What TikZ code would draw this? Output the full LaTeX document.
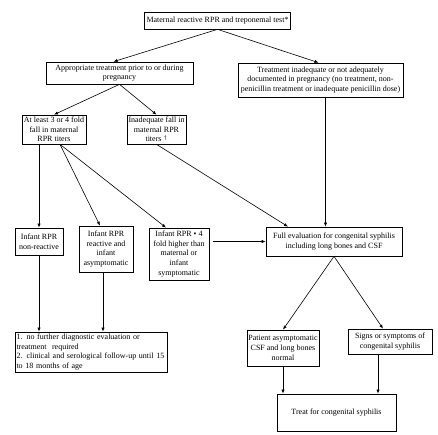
\documentclass[tikz,border=0pt]{standalone}
\usepackage{fontspec}
\setmainfont{Liberation Serif}
\usetikzlibrary{arrows.meta}

\begin{document}
\begin{tikzpicture}[x=1pt,y=-1pt,
  box/.style={draw,line width=0.7pt,align=center,inner sep=1pt,font=\fontsize{8}{9.7}\selectfont},
  arr/.style={-{Latex[length=4pt,width=3.2pt]},line width=0.6pt}]
\useasboundingbox (0,0) rectangle (438,435);
% boxes
\node[box,minimum width=146pt,minimum height=17pt] (mat) at (217.5,20.5) {Maternal reactive RPR and treponemal test*};
\node[box,minimum width=147pt,minimum height=22pt] (appr) at (119.5,73) {Appropriate treatment prior to or during\\pregnancy};
\node[box,minimum width=165pt,minimum height=34pt] (inad) at (320.5,80) {Treatment inadequate or not adequately\\documented in pregnancy (no treatment, non-\\penicillin treatment or inadequate penicillin dose)};
\node[box,minimum width=64pt,minimum height=29pt] (fold) at (54,129.5) {At least 3 or 4 fold\\fall in maternal\\RPR titers};
\node[box,minimum width=59pt,minimum height=29pt] (fall) at (156.5,129.5) {Inadequate fall in\\maternal RPR\\titers $^\dagger$};
\node[box,minimum width=48pt,minimum height=27pt] (nonr) at (39,241.5) {Infant RPR\\non-reactive};
\node[box,minimum width=54pt,minimum height=46pt] (asym) at (106,249) {Infant RPR\\reactive and\\infant\\asymptomatic};
\node[box,minimum width=60pt,minimum height=52pt] (high) at (179,254) {Infant RPR \textbullet{} 4\\fold higher than\\maternal or\\infant\\symptomatic};
\node[box,minimum width=136pt,minimum height=29pt] (full) at (334,241.5) {Full evaluation for congenital syphilis\\including long bones and CSF};
\node[box,align=left,text width=150pt,minimum height=40pt] (follow) at (91.5,352) {1. no further diagnostic evaluation or\\treatment\ \ required\\2. clinical and serological follow-up until 15\\to 18 months of age};
\node[box,minimum width=72pt,minimum height=36pt] (pat) at (283,348) {Patient asymptomatic\\CSF and long bones\\normal};
\node[box,minimum width=84pt,minimum height=25pt] (sign) at (390,341.5) {Signs or symptoms of\\congenital syphilis};
\node[box,minimum width=119pt,minimum height=37pt] (treat) at (336.5,412.5) {Treat for congenital syphilis};
% arrows
\draw[arr] (mat.south) -- ([xshift=-6pt]appr.north);
\draw[arr] (mat.south) -- ([xshift=-2pt]inad.north);
\draw[arr] (appr.south) -- (fold.north);
\draw[arr] (appr.south) -- (fall.north);
\draw[arr] ([xshift=5pt]inad.south) -- ([xshift=5pt]inad.south |- full.north);
\draw[arr] (nonr.north |- fold.south) -- (nonr.north);
\draw[arr] ([xshift=6pt]fold.south) -- ([xshift=-6pt]asym.north);
\draw[arr] ([xshift=6pt]fold.south) -- ([xshift=-13pt]high.north);
\draw[arr] (fall.south) -- ([xshift=-46pt]full.north);
\draw[arr] ([xshift=4pt]high.east |- full.west) -- (full.west);
\draw[arr] (nonr.south) -- (nonr.south |- follow.north);
\draw[arr] ([xshift=-3pt]asym.south) -- ([xshift=-3pt]asym.south |- follow.north);
\draw[arr] (full.south) -- (pat.north);
\draw[arr] (full.south) -- ([xshift=-7pt]sign.north);
\draw[arr] (pat.south) -- (pat.south |- treat.north);
\draw[arr] ([xshift=-12pt]sign.south) -- ([xshift=-12pt]sign.south |- treat.north);
\end{tikzpicture}
\end{document}
